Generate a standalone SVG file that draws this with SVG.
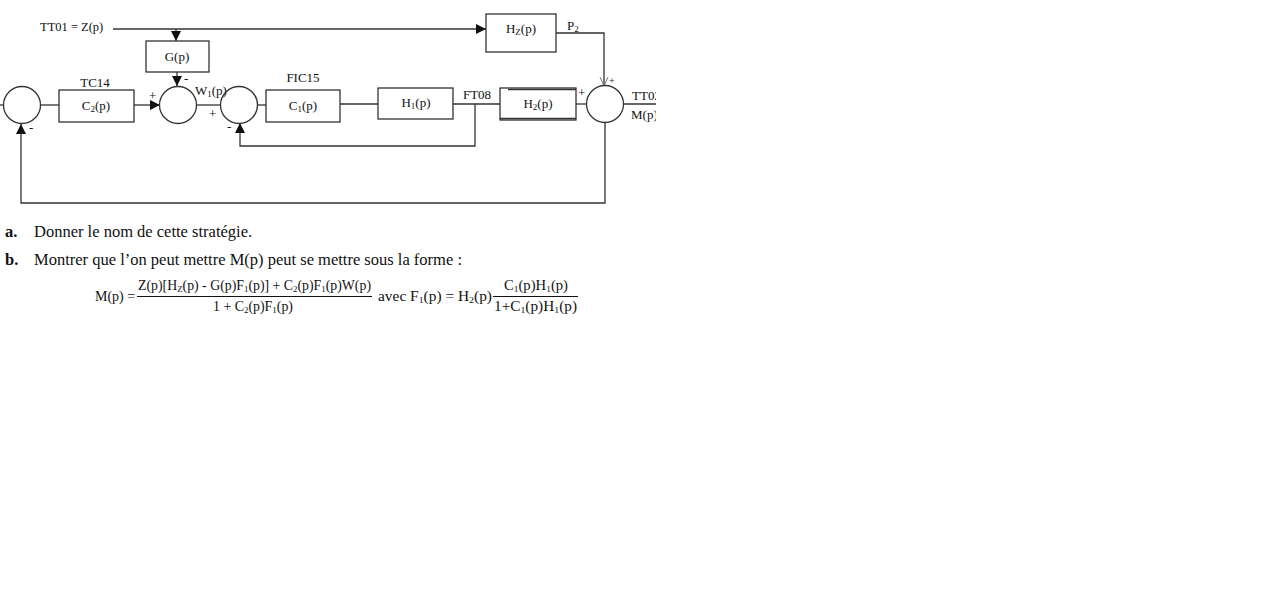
<svg xmlns="http://www.w3.org/2000/svg" width="1280" height="615" viewBox="0 0 1280 615">
<style>
.bx{fill:none;stroke:#333;stroke-width:1.3}
.sm{fill:none;stroke:#333;stroke-width:1.3}
.ln{fill:none;stroke:#333;stroke-width:1.3}
.t{font-family:"Liberation Serif","Times New Roman",serif;font-size:13px;fill:#111}
.c{text-anchor:middle}
.b{font-family:"Liberation Serif","Times New Roman",serif;font-size:16.5px;fill:#111}
.f{font-family:"Liberation Serif","Times New Roman",serif;font-size:14px;fill:#111}
.s{font-size:9px}
</style>
<defs>
<marker id="ah" markerUnits="userSpaceOnUse" markerWidth="10" markerHeight="10" refX="10" refY="5" orient="auto">
<path d="M0,0 L10,5 L0,10 z" fill="#111"/>
</marker>
<marker id="ao" markerUnits="userSpaceOnUse" markerWidth="10" markerHeight="10" refX="10" refY="5" orient="auto">
<path d="M1,1 L10,5 L1,9" fill="none" stroke="#777" stroke-width="1"/>
</marker>
<clipPath id="cut"><rect x="0" y="0" width="656" height="615"/></clipPath>
</defs>
<rect width="1280" height="615" fill="#fff"/>
<g clip-path="url(#cut)">
<g id="connectors">
<path class="ln" d="M0,105 H3"/>
<path class="ln" d="M113,29 H486" marker-end="url(#ah)"/>
<path class="ln" d="M176,29 V41" marker-end="url(#ah)"/>
<path class="ln" d="M177,72 V86" marker-end="url(#ah)"/>
<path class="ln" d="M134,105 H160" marker-end="url(#ah)"/>
<path class="ln" d="M40,105 H59"/>
<path class="ln" d="M197,105 H221" stroke="#888"/>
<path class="ln" d="M257,105 H266"/>
<path class="ln" d="M340,104 H378"/>
<path class="ln" d="M453,104 H500"/>
<path class="ln" d="M475,104 V146 H240 V123" marker-end="url(#ah)"/>
<path class="ln" d="M576,104 H587" stroke="#888"/>
<path class="ln" d="M556,33 H604 V86" marker-end="url(#ao)"/>
<path class="ln" d="M623,104 H660"/>
<path class="ln" d="M605,122 V203 H21 V124" marker-end="url(#ah)"/>
</g>
<g id="S1"><circle class="sm" cx="22" cy="105" r="18.5"/><text class="t" x="29" y="132">-</text></g>
<g id="C2"><rect class="bx" x="59" y="90" width="75" height="32"/><text class="t c" x="96" y="110">C<tspan class="s" dy="2">2</tspan><tspan dy="-2">(p)</tspan></text><text class="t c" x="95" y="87">TC14</text></g>
<g id="G"><rect class="bx" x="146" y="41" width="63" height="31"/><text class="t c" x="177" y="61">G(p)</text></g>
<g id="S2"><circle class="sm" cx="178" cy="105" r="18.5"/><text class="t" x="149" y="100">+</text><text class="t" x="184" y="83">-</text></g>
<g id="W1"><text class="t" x="195" y="95">W<tspan class="s" dy="2">1</tspan><tspan dy="-2">(p)</tspan></text></g>
<g id="S3"><circle class="sm" cx="239" cy="105" r="18.5" stroke="#555"/><text class="t" x="209" y="118">+</text><text class="t" x="227" y="131">-</text></g>
<g id="C1"><rect class="bx" x="266" y="90" width="74" height="32"/><text class="t c" x="303" y="110">C<tspan class="s" dy="2">1</tspan><tspan dy="-2">(p)</tspan></text><text class="t c" x="303" y="82">FIC15</text></g>
<g id="H1"><rect class="bx" x="378" y="88" width="75" height="31"/><text class="t c" x="416" y="107">H<tspan class="s" dy="2">1</tspan><tspan dy="-2">(p)</tspan></text></g>
<g id="FT08"><text class="t c" x="477" y="99">FT08</text></g>
<g id="H2"><rect class="bx" x="500" y="88" width="76" height="32" stroke="#888"/><path class="ln" d="M508,89.5 H576 M500,118.5 H576"/><text class="t c" x="538" y="108">H<tspan class="s" dy="2">2</tspan><tspan dy="-2">(p)</tspan></text></g>
<g id="HZ"><rect class="bx" x="486" y="14" width="70" height="38"/><text class="t c" x="521" y="33">H<tspan class="s" dy="2">Z</tspan><tspan dy="-2">(p)</tspan></text><text class="t" x="567" y="30">P<tspan class="s" dy="2">2</tspan></text></g>
<g id="S4"><circle class="sm" cx="605" cy="104" r="18.5"/><text class="t" x="578" y="97">+</text><text class="t" x="609" y="84" style="font-size:10px">+</text><text class="t" x="632" y="100">TT02</text><text class="t" x="631" y="119">M(p)</text></g>
<g id="TT01"><text class="t" x="40" y="31" style="font-size:12.5px">TT01 = Z(p)</text></g>
</g>
<g id="questions">
<text class="b" x="5" y="237" font-weight="bold">a.</text>
<text class="b" x="34" y="237">Donner le nom de cette stratégie.</text>
<text class="b" x="5" y="265" font-weight="bold">b.</text>
<text class="b" x="34" y="265">Montrer que l’on peut mettre M(p) peut se mettre sous la forme :</text>
</g>
<g id="formula">
<text class="f" x="95" y="301" textLength="40" lengthAdjust="spacingAndGlyphs">M(p) =</text>
<text class="f" x="138" y="290" textLength="233" lengthAdjust="spacingAndGlyphs">Z(p)[H<tspan class="s" dy="2">Z</tspan><tspan dy="-2">(p) - G(p)F</tspan><tspan class="s" dy="2">1</tspan><tspan dy="-2">(p)] + C</tspan><tspan class="s" dy="2">2</tspan><tspan dy="-2">(p)F</tspan><tspan class="s" dy="2">1</tspan><tspan dy="-2">(p)W(p)</tspan></text>
<path d="M137,296.5 H372" stroke="#111" stroke-width="1"/>
<text class="f" x="213" y="311" textLength="80" lengthAdjust="spacingAndGlyphs">1 + C<tspan class="s" dy="2">2</tspan><tspan dy="-2">(p)F</tspan><tspan class="s" dy="2">1</tspan><tspan dy="-2">(p)</tspan></text>
<text class="f" x="378" y="301" textLength="114" lengthAdjust="spacingAndGlyphs">avec  F<tspan class="s" dy="2">1</tspan><tspan dy="-2">(p) = H</tspan><tspan class="s" dy="2">2</tspan><tspan dy="-2">(p)</tspan></text>
<text class="f" x="504" y="290" textLength="64" lengthAdjust="spacingAndGlyphs">C<tspan class="s" dy="2">1</tspan><tspan dy="-2">(p)H</tspan><tspan class="s" dy="2">1</tspan><tspan dy="-2">(p)</tspan></text>
<path d="M493,296.5 H578" stroke="#111" stroke-width="1"/>
<text class="f" x="494" y="311" textLength="83" lengthAdjust="spacingAndGlyphs">1+C<tspan class="s" dy="2">1</tspan><tspan dy="-2">(p)H</tspan><tspan class="s" dy="2">1</tspan><tspan dy="-2">(p)</tspan></text>
</g>
</svg>
